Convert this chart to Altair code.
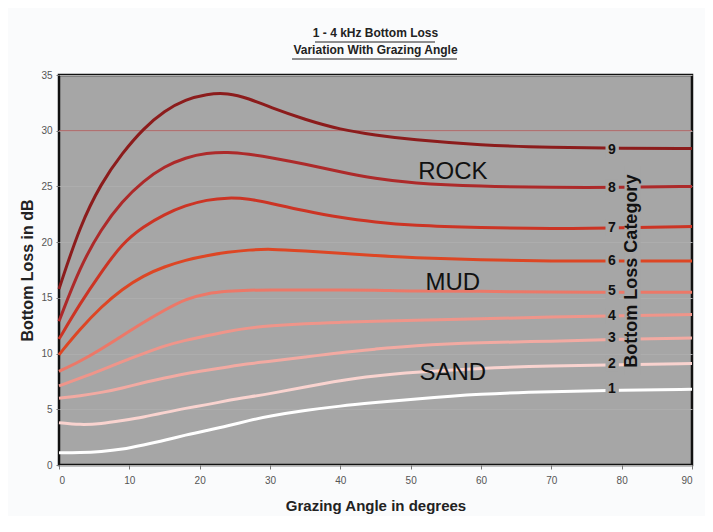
import altair as alt
import pandas as pd

# ---- data ----
angles = [0, 3, 6, 9, 12, 15, 18, 21, 24, 27, 30, 35, 40, 45, 50, 60, 70, 80, 90]

cat1 = [1.1, 1.1, 1.2, 1.4, 1.8, 2.2, 2.7, 3.1, 3.5, 4.0, 4.4, 4.9, 5.3, 5.6, 5.9, 6.4, 6.6, 6.7, 6.8]
cat2 = [3.8, 3.6, 3.7, 4.0, 4.3, 4.7, 5.1, 5.4, 5.8, 6.1, 6.4, 7.0, 7.6, 8.0, 8.3, 8.7, 8.9, 9.0, 9.1]
cat3 = [6.0, 6.2, 6.5, 6.9, 7.4, 7.8, 8.2, 8.5, 8.8, 9.1, 9.3, 9.7, 10.1, 10.4, 10.7, 11.0, 11.1, 11.3, 11.4]
cat4 = [7.1, 7.8, 8.5, 9.3, 10.0, 10.7, 11.2, 11.6, 12.0, 12.3, 12.5, 12.7, 12.8, 12.9, 13.0, 13.1, 13.3, 13.4, 13.5]
cat5 = [8.4, 9.3, 10.4, 11.6, 12.8, 13.9, 14.9, 15.4, 15.6, 15.7, 15.7, 15.7, 15.7, 15.7, 15.6, 15.6, 15.5, 15.5, 15.5]
cat6 = [9.9, 12.2, 14.2, 15.8, 17.0, 17.8, 18.4, 18.8, 19.1, 19.3, 19.4, 19.2, 19.0, 18.8, 18.6, 18.4, 18.3, 18.3, 18.3]
cat7 = [11.3, 14.5, 17.3, 19.9, 21.4, 22.5, 23.3, 23.8, 24.0, 23.9, 23.5, 22.8, 22.2, 21.8, 21.5, 21.3, 21.2, 21.3, 21.4]
cat8 = [12.9, 17.8, 21.2, 23.7, 25.5, 26.8, 27.6, 28.0, 28.1, 27.9, 27.6, 27.0, 26.3, 25.7, 25.3, 25.0, 24.9, 24.9, 25.0]
cat9 = [15.8, 21.5, 25.3, 28.0, 30.2, 31.8, 32.8, 33.3, 33.4, 32.9, 32.1, 31.0, 30.1, 29.6, 29.2, 28.7, 28.5, 28.4, 28.4]

categories = ["1", "2", "3", "4", "5", "6", "7", "8", "9"]
series = [cat1, cat2, cat3, cat4, cat5, cat6, cat7, cat8, cat9]
colors = ["#ffffff", "#f9d3cf", "#f2aaa2", "#ef958a", "#ec7868",
          "#dd4624", "#cc3424", "#ad2a2a", "#8c1c1c"]

label_y = [6.8, 9.1, 11.4, 13.4, 15.6, 18.3, 21.3, 24.9, 28.3]
label_x = 78.6

region_names = ["ROCK", "MUD", "SAND"]
region_x = [56, 56, 56]
region_y = [26.3, 16.3, 8.3]

ref_line = [30]

title_lines = ["1 - 4 kHz Bottom Loss", "Variation With Grazing Angle"]

# ---- tables ----
rows = []
for c, s in zip(categories, series):
    for a, v in zip(angles, s):
        rows.append({"angle": a, "loss": v, "cat": c})
curves = pd.DataFrame(rows)

labels = pd.DataFrame({"cat": categories, "y": label_y, "x": [label_x] * 9})
labels["x1"] = label_x - 0.9
labels["x2"] = label_x + 1.0
labels["y1"] = labels["y"] - 0.75
labels["y2"] = labels["y"] + 0.75

cat_title = pd.DataFrame({"x": [81.5], "y": [17.4], "x1": [80.4], "x2": [82.7],
                          "y1": [8.0], "y2": [26.9], "t": ["Bottom Loss Category"]})
regions = pd.DataFrame({"name": region_names, "x": region_x, "y": region_y})
ref = pd.DataFrame({"y": ref_line})

BG = "#a6a6a6"
FONT = "Liberation Sans"

xscale = alt.Scale(domain=[0, 90], nice=False)
yscale = alt.Scale(domain=[0, 35], nice=False)

base = alt.Chart(curves)

lines = base.mark_line(strokeWidth=3, interpolate="basis").encode(
    x=alt.X("angle:Q", scale=xscale,
            axis=alt.Axis(title="Grazing Angle in degrees", values=list(range(0, 91, 10)),
                          grid=False)),
    y=alt.Y("loss:Q", scale=yscale,
            axis=alt.Axis(title="Bottom Loss in dB", values=list(range(0, 36, 5)))),
    color=alt.Color("cat:N", scale=alt.Scale(domain=categories, range=colors), legend=None),
    detail="cat:N",
)

refrule = alt.Chart(ref).mark_rule(color="#b36464", strokeWidth=1).encode(y=alt.Y("y:Q", scale=yscale))

boxes = alt.Chart(labels).mark_rect(color=BG).encode(
    x=alt.X("x1:Q", scale=xscale), x2="x2:Q",
    y=alt.Y("y1:Q", scale=yscale), y2="y2:Q")

nums = alt.Chart(labels).mark_text(fontSize=14, fontWeight="bold", font=FONT,
                                   color="#111111", baseline="middle", align="center").encode(
    x=alt.X("x:Q", scale=xscale), y=alt.Y("y:Q", scale=yscale), text="cat:N")

tbox = alt.Chart(cat_title).mark_rect(color=BG).encode(
    x=alt.X("x1:Q", scale=xscale), x2="x2:Q",
    y=alt.Y("y1:Q", scale=yscale), y2="y2:Q")

ttext = alt.Chart(cat_title).mark_text(fontSize=18, fontWeight="bold", font=FONT, angle=270,
                                       color="#111111", baseline="middle", align="center").encode(
    x=alt.X("x:Q", scale=xscale), y=alt.Y("y:Q", scale=yscale), text="t:N")

reg = alt.Chart(regions).mark_text(fontSize=24, font=FONT, color="#111111",
                                   baseline="middle", align="center").encode(
    x=alt.X("x:Q", scale=xscale), y=alt.Y("y:Q", scale=yscale), text="name:N")

# title underlines (decoration, in pixels relative to the plot's top-left)
ul1 = pd.DataFrame({"k": ["u1"]})
ul2 = pd.DataFrame({"k": ["u2"]})
under1 = alt.Chart(ul1).mark_rule(color="#222222", strokeWidth=1.2).encode(
    x=alt.value(256), x2=alt.value(376), y=alt.value(-33))
under2 = alt.Chart(ul2).mark_rule(color="#222222", strokeWidth=1.2).encode(
    x=alt.value(233), x2=alt.value(398), y=alt.value(-16))

chart = alt.layer(refrule, lines, boxes, nums, tbox, ttext, reg, under1, under2).properties(
    width=633, height=390,
    autosize=alt.AutoSizeParams(type="none"),
    padding={"left": 51, "top": 67, "right": 13, "bottom": 51},
    background="#fafbfc",
    title=alt.TitleParams(text=title_lines, fontSize=12, fontWeight="bold", font=FONT,
                          color="#222222", lineHeight=17, anchor="middle", offset=17, dy=33),
).configure_view(
    fill=BG, stroke="#111111", strokeWidth=2.5
).configure_axis(
    labelFont=FONT, labelFontSize=10, labelColor="#555555",
    titleFont=FONT, titleFontWeight="bold", titleColor="#222222",
    domain=False, tickColor="#777777", tickSize=3,
    gridColor="#adadad", gridWidth=1,
).configure_axisY(
    titleFontSize=16, labelPadding=4, titleX=-32, titleY=195, titleAngle=-90,
    titleBaseline="middle", titleAlign="center",
).configure_axisX(
    titleFontSize=15, labelPadding=6, tickSize=4, titleY=40, titleBaseline="middle",
)

chart.save("out.html", embed_options={"renderer": "svg", "actions": False})
